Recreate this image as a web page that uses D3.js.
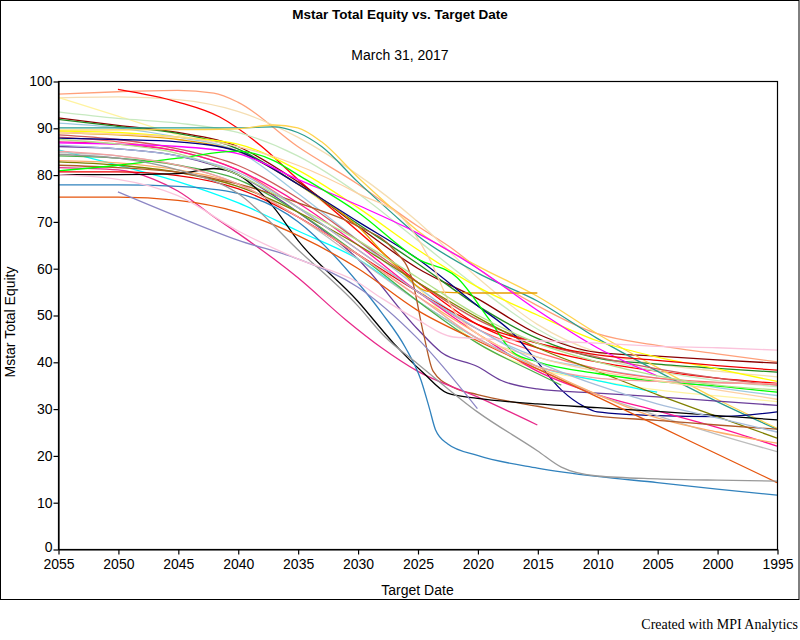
<!DOCTYPE html>
<html><head><meta charset="utf-8">
<script src="https://cdn.jsdelivr.net/npm/d3@7"></script>
<style>body{margin:0;background:#fff}svg{display:block}</style>
</head><body>
<svg id="chart" width="800" height="640"></svg>
<script>
// ---- data ----
const titleText = "Mstar Total Equity vs. Target Date";
const subtitleText = "March 31, 2017";
const xLabel = "Target Date";
const yLabel = "Mstar Total Equity";
const creditText = "Created with MPI Analytics";
const xTicks = [2055,2050,2045,2040,2035,2030,2025,2020,2015,2010,2005,2000,1995];
const yTicks = [0,10,20,30,40,50,60,70,80,90,100];

// each fund: [target year, equity %]
const seriesPoints = [
 [[2055,97.2],[2050,97.7],[2045,98],[2042,97.4],[2040,95.5],[2035,86],[2030,78],[2025,69],[2022,64],[2020,60],[2015,52],[2010,46],[2005,43.5],[2000,41.7],[1995,40]],
 [[2055,96.4],[2050,96.6],[2045,96],[2040,93.5],[2035,88],[2030,80],[2025,70],[2020,58],[2015,48],[2010,42],[2005,39.5],[2000,38],[1995,36.8]],
 [[2055,96.5],[2050,92.5],[2045,88.5],[2040,85],[2035,78],[2030,68],[2025,56],[2022,48],[2020,44],[2015,38.5],[2010,36],[2005,34],[2000,32.7],[1995,31.5]],
 [[2050,98.2],[2045,95.5],[2041.5,92.3],[2038,86],[2035,79],[2030,68],[2025,57],[2020,48],[2015,43],[2010,40],[2005,38],[2000,36.5],[1995,35.4]],
 [[2055,93.4],[2050,92],[2045,91],[2040,89],[2035,84],[2030,76],[2025,66],[2020,56],[2015,47],[2010,41],[2005,38],[2000,36],[1995,34.7]],
 [[2055,92.1],[2050,90.5],[2045,89],[2040,86],[2035,78.5],[2030,69],[2025,60],[2020,53.5],[2015,46],[2010,42],[2005,41.2],[2000,40.4],[1995,39.7]],
 [[2055,91.8],[2050,90.3],[2045,88.8],[2040,85.5],[2035,78],[2030,69.5],[2025,61],[2020,52],[2015,45],[2010,40.8],[2005,39.5],[2000,38.6],[1995,37.8]],
 [[2055,91],[2050,90],[2045,88],[2040,85],[2035,76],[2030,66],[2025,56],[2020,47],[2015,41],[2010,38.5],[2005,36.5],[2000,34.5],[1995,32.8]],
 [[2055,90],[2045,90],[2040,90],[2037,90.2],[2035,89],[2033,86],[2030,78.5],[2027,71.5],[2025,67],[2020,59],[2015,53],[2010,45],[2005,38],[2000,31.5],[1995,25.6]],
 [[2055,89.5],[2045,89.6],[2040,89.8],[2037,90.6],[2035,90],[2033,87],[2030,79.5],[2027,72.5],[2025,68],[2020,60.5],[2015,54],[2010,46],[2005,38.8],[2000,32],[1995,25.8]],
 [[2055,89.3],[2050,89],[2045,88],[2040,86.5],[2035,81],[2030,73],[2025,64],[2020,56],[2015,50],[2010,44.5],[2005,41],[2000,38.5],[1995,35.8]],
 [[2055,89],[2050,88.5],[2045,87.5],[2040,85],[2035,78],[2030,69],[2027,61],[2024,55],[2020,54.7],[2015,54.7]],
 [[2055,88.5],[2050,87.5],[2045,85.5],[2040,82],[2035,75],[2030,66],[2025,57],[2020,49],[2015,44],[2010,41],[2005,38.5],[2000,36.5],[1995,35]],
 [[2055,88],[2050,87],[2045,85],[2040,81],[2035,73],[2030,64],[2025,55],[2020,47],[2015,42],[2010,38.5],[2005,36.5],[2000,35.6],[1995,35.2]],
 [[2055,87.8],[2050,87.5],[2045,87],[2040,85],[2035,78],[2030,70],[2025,62],[2020,52],[2017,46],[2015,40],[2013,34],[2011,30.3],[2010,29.3],[2005,28.5],[2000,28.3],[1995,29.3]],
 [[2055,87],[2050,86.5],[2045,85],[2040,81],[2035,74],[2030,65],[2025,55],[2020,46],[2015,38],[2010,33],[2005,29.5],[2000,26],[1995,22]],
 [[2055,86.8],[2050,86.5],[2045,86],[2040,84.5],[2035,79],[2030,73.5],[2025,67.5],[2020,60],[2015,51],[2010,43],[2005,37]],
 [[2055,86],[2050,85.5],[2045,84],[2040,80],[2035,72],[2030,62],[2025,47],[2023,42],[2020,39],[2018,36],[2015,34.2],[2010,33.3],[2005,32.5],[2000,31.6],[1995,30.7]],
 [[2055,85.3],[2050,82],[2045,78.5],[2040,74],[2035,68],[2030,62],[2025,53],[2020,45],[2015,39],[2010,36],[2005,33.5]],
 [[2055,84.7],[2050,84],[2045,82],[2040,78],[2035,71],[2030,62],[2025,53],[2020,45],[2015,38.5],[2010,33],[2005,28.5],[2000,24.5],[1995,20.8]],
 [[2055,84],[2050,83.5],[2045,82],[2040,79],[2035,72],[2030,63],[2025,53],[2020,44],[2015,37.5],[2013,35]],
 [[2055,83],[2050,82.5],[2045,81],[2040,78],[2035,71],[2030,63],[2025,54],[2020,46],[2015,39],[2010,33],[2005,28],[2000,25],[1995,22.6]],
 [[2055,82.7],[2050,82],[2045,80.5],[2040,77.5],[2035,72],[2030,65],[2025,57],[2020,49.5],[2015,43],[2010,38],[2005,33],[2000,28.3],[1995,23.7]],
 [[2055,82],[2050,81.5],[2045,80.5],[2040,78],[2035,74],[2030,69],[2027,64],[2025.5,58],[2024.5,46],[2023.7,38],[2022,34.5],[2020,33],[2015,30.5],[2010,28.4],[2005,27.5],[2000,26.5],[1995,25.6]],
 [[2055,81.5],[2050,81],[2047,79],[2045,76.5],[2042,71],[2040,67.5],[2037,62],[2035,58],[2031,49],[2028,43],[2025,38],[2020,32.5],[2015,26.5]],
 [[2055,80.8],[2050,82],[2045,83.5],[2040,85],[2037,83],[2035,80],[2030,72],[2025,62],[2021.7,58],[2019,49],[2017,42],[2015,40],[2010,37.5],[2005,35.8],[2000,34.8],[1995,33.5]],
 [[2055,80.6],[2050,80.6],[2045,79.8],[2040,77],[2035,71],[2030,63],[2025,55],[2020,48],[2015,44],[2010,41.5],[2005,40.3],[2000,39.2],[1995,38.2]],
 [[2055,80],[2050,80],[2045,80.2],[2042,81.3],[2040,80],[2037,73],[2035,66],[2030,53],[2027,44],[2024.5,37.6],[2022.5,33.3],[2020,32.2],[2015,31],[2010,30.2],[2005,29.4],[2000,28.5],[1995,27.6]],
 [[2055,77.8],[2050,77.8],[2045,77.5],[2040,76],[2035,70],[2030,57],[2028,50.5],[2026,43],[2024.7,36],[2024,30],[2023.5,25.5],[2022.5,22.5],[2020,20],[2015,17.3],[2010,15.5],[2005,14.2],[2000,12.8],[1995,11.5]],
 [[2055,75.2],[2050,75.2],[2045,74.5],[2040,72],[2035,67],[2030,60],[2025,51],[2020,44.5],[2015,38.5],[2010,32.5],[2005,26.4],[2000,20.3],[1995,14.2]],
 [[2050,76.3],[2045,71],[2040,66],[2035,62],[2030,56],[2025,45],[2020,30]],
 [[2055,84.3],[2050,83.5],[2045,81],[2040,76],[2035,64],[2030,52],[2027.7,45.3],[2025,39.6],[2020,29.3],[2015,21],[2013,17.5],[2010,15.6],[2005,15],[2000,14.7],[1995,14.5]],
 [[2055,80],[2050,79],[2045,75.5],[2040,68],[2035,62],[2030,57],[2028,53.6],[2025,49],[2022,45.3],[2015,44.5],[2010,44],[2005,43.3],[2000,43],[1995,42.5]],
 [[2055,85],[2050,84],[2045,82],[2040,78],[2035,71],[2030,63],[2025,54],[2020,45],[2015,39],[2010,36.5],[2005,35.8],[2000,35.5],[1995,35.3]],
 [[2055,89],[2045,88],[2040,86],[2035,82],[2030,76],[2026,70],[2024,62],[2022,51],[2020,46],[2015,41],[2010,38],[2005,36],[2000,34],[1995,32]],
 [[2055,87.5],[2050,86.5],[2045,84.5],[2040,80],[2035,73],[2030,66],[2025,58],[2020,50],[2015,44],[2010,40],[2005,37],[2000,35],[1995,34]],
 [[2055,86.3],[2050,85.5],[2045,84],[2040,80.5],[2035,73],[2030,64],[2025,55],[2020,47],[2015,40],[2010,35],[2005,31],[2000,28],[1995,25]]
];
const seriesColors = [
 "#ffa07a","#f5deb3","#fff3a0","#ff0000","#c7e9c0","#8b0000","#228b22","#9ecae1","#2a9d8f","#ffd34d",
 "#ffff00","#e69f00","#cd5c5c","#ff6b6b","#000080","#ff1493","#ff00ff","#6a3d9a","#00ffff","#bdbdbd",
 "#4daf4a","#fdae6b","#808000","#b15928","#e7298a","#00ff00","#ee0000","#000000","#3182bd","#e6550d",
 "#8c86c4","#999999","#fbc4dc","#f4a0a0","#fdd0a2","#b2df8a","#a6bddb"
];

// ---- chart ----
const svg = d3.select("#chart");
const W = 800, H = 640;
const m = {left:58, right:777, top:81, bottom:549};

const x = d3.scaleLinear().domain([2055,1995]).range([m.left, m.right]);
const y = d3.scaleLinear().domain([0,100]).range([m.bottom, m.top]);

svg.append("rect").attr("x",0.5).attr("y",0.5).attr("width",W-1.5).attr("height",599)
  .attr("fill","#fff").attr("stroke","#000").attr("stroke-width",1);

svg.append("text").attr("x",400).attr("y",19).attr("text-anchor","middle")
  .attr("font-family","Liberation Sans, Arial, sans-serif").attr("font-size",13.5).attr("font-weight","bold")
  .text(titleText);
svg.append("text").attr("x",400).attr("y",60).attr("text-anchor","middle")
  .attr("font-family","Liberation Sans, Arial, sans-serif").attr("font-size",14)
  .text(subtitleText);

const line = d3.line().x(d=>x(d[0])).y(d=>y(d[1])).curve(d3.curveMonotoneX);
const g = svg.append("g");
g.selectAll("path").data(seriesPoints).join("path")
  .attr("d", d => line(d))
  .attr("fill","none")
  .attr("stroke",(d,i)=>seriesColors[i % seriesColors.length])
  .attr("stroke-width",1.3);

// frame
svg.append("rect").attr("x",m.left+0.5).attr("y",m.top+0.5)
  .attr("width",m.right-m.left).attr("height",m.bottom-m.top)
  .attr("fill","none").attr("stroke","#000").attr("stroke-width",1.2);

const xAxis = svg.append("g").attr("transform",`translate(0.5,${m.bottom+0.5})`)
  .call(d3.axisBottom(x).tickValues(xTicks).tickFormat(d3.format("d")).tickSize(5).tickSizeOuter(0));
const yAxis = svg.append("g").attr("transform",`translate(${m.left+0.5},0.5)`)
  .call(d3.axisLeft(y).tickValues(yTicks).tickFormat(d3.format("d")).tickSize(5).tickSizeOuter(0));
[xAxis,yAxis].forEach(a=>{
  a.selectAll("text").attr("font-family","Liberation Sans, Arial, sans-serif").attr("font-size",14).attr("fill","#000");
  a.selectAll("line").attr("stroke","#000").attr("stroke-width",1.2);
  a.select(".domain").attr("stroke","#000").attr("stroke-width",1.2);
});
xAxis.selectAll("text").attr("dy",0).attr("y",19);
yAxis.selectAll("text").attr("x",-6).attr("dy","0.32em");
yAxis.selectAll(".tick").filter(d=>d===0).select("text").attr("dy","0.15em");

svg.append("text").attr("x",(m.left+m.right)/2).attr("y",595).attr("text-anchor","middle")
  .attr("font-family","Liberation Sans, Arial, sans-serif").attr("font-size",14).text(xLabel);
svg.append("text").attr("transform","translate(15,322) rotate(-90)").attr("text-anchor","middle")
  .attr("font-family","Liberation Sans, Arial, sans-serif").attr("font-size",14).text(yLabel);
svg.append("text").attr("x",798).attr("y",629).attr("text-anchor","end")
  .attr("font-family","Liberation Serif, Times New Roman, serif").attr("font-size",14).text(creditText);
</script>
</body></html>
